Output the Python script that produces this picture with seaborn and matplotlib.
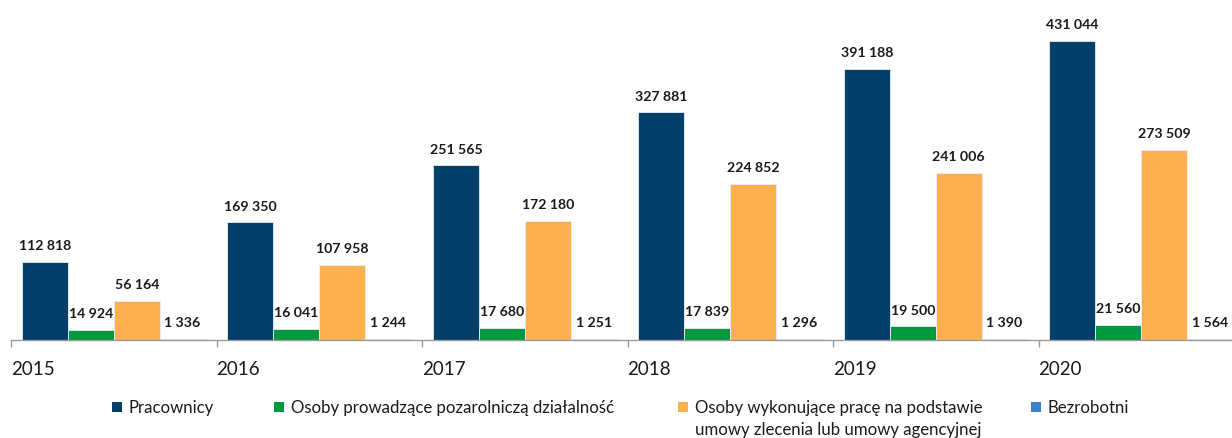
import matplotlib
matplotlib.use("Agg")
import matplotlib.pyplot as plt
import seaborn as sns
import pandas as pd
from matplotlib.patches import Patch

years = ["2015", "2016", "2017", "2018", "2019", "2020"]
series = [
    "Pracownicy",
    "Osoby prowadzące pozarolniczą działalność",
    "Osoby wykonujące pracę na podstawie\numowy zlecenia lub umowy agencyjnej",
    "Bezrobotni",
]
pracownicy = [112818, 169350, 251565, 327881, 391188, 431044]
prowadzace = [14924, 16041, 17680, 17839, 19500, 21560]
zlecenia = [56164, 107958, 172180, 224852, 241006, 273509]
bezrobotni = [1336, 1244, 1251, 1296, 1390, 1564]
colors = ["#033F6B", "#009A3E", "#FDB04E", "#3D80D0"]

values = [pracownicy, prowadzace, zlecenia, bezrobotni]
rows = []
for s, vals in zip(series, values):
    for y, v in zip(years, vals):
        rows.append({"Rok": y, "Wartość": v, "Seria": s})
df = pd.DataFrame(rows)

sns.set_style("white")
plt.rcParams["font.family"] = ["Lato", "DejaVu Sans"]

W, H = 1232, 438
fig = plt.figure(figsize=(W / 100, H / 100), dpi=100)
ax = fig.add_axes([11 / W, (H - 340) / H, (W - 11) / W, 340 / H])

sns.barplot(data=df, x="Rok", y="Wartość", hue="Seria", order=years,
            hue_order=series, palette=colors, saturation=1, width=0.893,
            gap=0, edgecolor="#e8eef4", linewidth=0.6, legend=False, ax=ax)

for cont, vals in zip(ax.containers, values):
    labels = [f"{v:,}".replace(",", " ") for v in vals]
    ax.bar_label(cont, labels=labels, padding=7, fontsize=10.2,
                 fontweight="bold", color="#1a1a1a")

ax.set_ylim(0, 490000)
ax.set_xlim(-0.5, (W - 11) / 205.5 - 0.5)
ax.set_yticks([])
ax.set_xticks([i - 0.5 for i in range(len(years))])
ax.set_xticklabels(years, ha="left", fontsize=13.5, color="#1a1a1a")
ax.tick_params(axis="x", direction="out", length=5, width=1,
               color="#9a9a9a", pad=10, bottom=True)
ax.set_xlabel("")
ax.set_ylabel("")
for sp in ["top", "left", "right"]:
    ax.spines[sp].set_visible(False)
ax.spines["bottom"].set_color("#9a9a9a")
ax.spines["bottom"].set_linewidth(1)

legend_x = [112, 274, 678, 1031]
for s, c, lx in zip(series, colors, legend_x):
    first, *rest = s.split("\n")
    leg = fig.legend(handles=[Patch(facecolor=c, edgecolor="none", label=first)],
                     loc="upper left", bbox_to_anchor=(lx / W, 1 - 400 / H),
                     frameon=False, fontsize=12.1, handlelength=0.6,
                     handleheight=0.6, handletextpad=0.4, borderpad=0,
                     borderaxespad=0, labelcolor="#1a1a1a")
    if rest:
        fig.canvas.draw()
        txt = leg.get_texts()[0]
        bb = txt.get_window_extent()
        fig.text(bb.x0 / W, (bb.y0 - 6) / H, "\n".join(rest), ha="left",
                 va="top", fontsize=12.1, color="#1a1a1a")

fig.savefig("out.png", dpi=100)
